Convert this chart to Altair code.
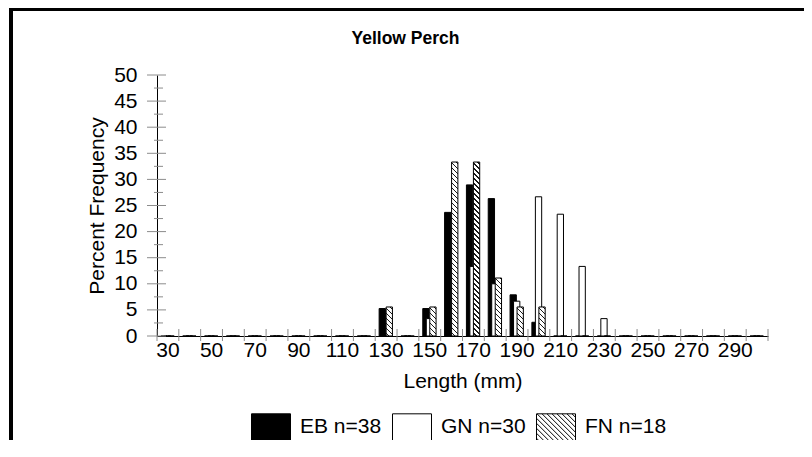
import altair as alt
import pandas as pd

# ---------------- data ----------------
lengths = [30, 40, 50, 60, 70, 80, 90, 100, 110, 120, 130, 140, 150, 160,
           170, 180, 190, 200, 210, 220, 230, 240, 250, 260, 270, 280, 290, 300]
eb_pct = [0, 0, 0, 0, 0, 0, 0, 0, 0, 0, 5.26, 0, 5.26, 23.68,
          28.95, 26.32, 7.89, 2.63, 0, 0, 0, 0, 0, 0, 0, 0, 0, 0]
gn_pct = [0, 0, 0, 0, 0, 0, 0, 0, 0, 0, 0, 0, 3.33, 0,
          13.33, 10.0, 6.67, 26.67, 23.33, 13.33, 3.33, 0, 0, 0, 0, 0, 0, 0]
fn_pct = [0, 0, 0, 0, 0, 0, 0, 0, 0, 0, 5.56, 0, 5.56, 33.33,
          33.33, 11.11, 5.56, 5.56, 0, 0, 0, 0, 0, 0, 0, 0, 0, 0]
series_names = ["EB n=38", "GN n=30", "FN n=18"]
x_label_values = [30, 50, 70, 90, 110, 130, 150, 170, 190, 210, 230, 250, 270, 290]
y_major_ticks = [0, 5, 10, 15, 20, 25, 30, 35, 40, 45, 50]
y_minor_ticks = [2.5, 7.5, 12.5, 17.5, 22.5, 27.5, 32.5, 37.5, 42.5, 47.5]

# ---------------- style ----------------
W, H = 611, 261
BAR_W = 6.3
FONT = "Liberation Sans"
TICK_GRAY = "#8c8c8c"

eb_df = pd.DataFrame({"length": lengths, "pct": eb_pct})
gn_df = pd.DataFrame({"length": lengths, "pct": gn_pct})
fn_df = pd.DataFrame({"length": lengths, "pct": fn_pct})
legend_df = pd.DataFrame({"series": series_names})
xt_df = pd.DataFrame({"length": lengths})
ymaj_df = pd.DataFrame({"pct": y_major_ticks})
ymin_df = pd.DataFrame({"pct": y_minor_ticks})
one_df = pd.DataFrame({"k": [0]})


def hatch_gradient(value, w=BAR_W, period=5.0, line=1.2):
    h = value / 50.0 * H
    total = w + h
    a = (1 + h / w) / (1 + (h / w) ** 2)
    stops = [{"offset": 0, "color": "white"}]
    s = period / 2
    while s < total:
        o0 = s / total
        o1 = min((s + line) / total, 1)
        stops += [{"offset": o0, "color": "white"}, {"offset": o0, "color": "#1a1a1a"},
                  {"offset": o1, "color": "#1a1a1a"}, {"offset": o1, "color": "white"}]
        s += period
    stops.append({"offset": 1, "color": "white"})
    return {"gradient": "linear", "x1": 0, "y1": 1, "x2": a, "y2": 1 - a * h / w,
            "stops": stops}


def hatch_symbol(hy=0.69, step=0.256):
    parts = [f"M-1,{-hy}H1V{hy}H-1Z"]
    c = -(1 + hy) + step / 2
    while c < 1 + hy:
        x_lo = max(-1, -hy + c)
        x_hi = min(1, hy + c)
        if x_hi - x_lo > 0.02:
            parts.append(f"M{x_lo:.3f},{x_lo - c:.3f}L{x_hi:.3f},{x_hi - c:.3f}")
        c += step
    return "".join(parts)


rect_symbol = "M-1,-0.69H1V0.69H-1Z"

x_axis = alt.Axis(values=x_label_values, labelAngle=0, ticks=False, grid=False,
                  domainColor="black", labelFont=FONT, labelFontSize=21,
                  labelColor="black", labelPadding=3, title="Length (mm)",
                  titleFont=FONT, titleFontSize=21, titleFontWeight="normal",
                  titleColor="black", titlePadding=10)
y_axis = alt.Axis(values=y_major_ticks, ticks=False, grid=False, domainColor="black",
                  labelFont=FONT, labelFontSize=21, labelColor="black", labelPadding=20,
                  title="Percent Frequency", titleFont=FONT, titleFontSize=21,
                  titleFontWeight="normal", titleColor="black", titlePadding=6)
x_scale = alt.Scale(paddingInner=0, paddingOuter=0)
y_scale = alt.Scale(domain=[0, 50], nice=False)

x_enc = alt.X("length:O", scale=x_scale, axis=x_axis)
y_enc = alt.Y("pct:Q", scale=y_scale, axis=y_axis)

eb_layer = alt.Chart(eb_df).mark_bar(
    width=BAR_W, xOffset=-3.85, fill="black", stroke="black", strokeWidth=1
).encode(x=x_enc, y=y_enc)

gn_layer = alt.Chart(gn_df).mark_bar(
    width=BAR_W, xOffset=-0.35, fill="white", stroke="black", strokeWidth=1
).encode(x=x_enc, y=y_enc)

fn_layers = [
    alt.Chart(fn_df).transform_filter(alt.datum.pct == 0).mark_bar(
        width=BAR_W, xOffset=3.15, fill="white", stroke="black", strokeWidth=1
    ).encode(x=x_enc, y=y_enc)
]
for v in sorted(set(p for p in fn_pct if p > 0)):
    fn_layers.append(
        alt.Chart(fn_df).transform_filter(alt.datum.pct == v).mark_bar(
            width=BAR_W, xOffset=3.15, fill=hatch_gradient(v), stroke="black",
            strokeWidth=1
        ).encode(x=x_enc, y=y_enc)
    )

# axis tick marks that cross the axis lines
ymaj_layer = alt.Chart(ymaj_df).mark_rule(color=TICK_GRAY, strokeWidth=1).encode(
    y=y_enc, x=alt.value(-10), x2=alt.value(9))
ymin_layer = alt.Chart(ymin_df).mark_rule(color=TICK_GRAY, strokeWidth=1).encode(
    y=y_enc, x=alt.value(-3), x2=alt.value(6))
xt_layer = alt.Chart(xt_df).mark_rule(color=TICK_GRAY, strokeWidth=1).encode(
    x=alt.X("length:O", bandPosition=0, scale=x_scale, axis=x_axis),
    y=alt.value(H - 7), y2=alt.value(H + 5))
xt_end_layer = alt.Chart(xt_df).transform_filter(alt.datum.length == lengths[-1]).mark_rule(
    color=TICK_GRAY, strokeWidth=1).encode(
    x=alt.X("length:O", bandPosition=1, scale=x_scale, axis=x_axis),
    y=alt.value(H - 7), y2=alt.value(H + 5))

# legend (built from an empty point layer)
leg = alt.Legend(orient="none", legendX=94, legendY=332, direction="horizontal",
                 title=None, labelFont=FONT, labelFontSize=21, labelColor="black",
                 symbolSize=1521, symbolStrokeWidth=1, symbolStrokeColor="black",
                 labelOffset=9, columnPadding=8, padding=0)
legend_layer = alt.Chart(legend_df).transform_filter("false").mark_point(
    filled=True, size=1521, stroke="black", strokeWidth=1, opacity=1
).encode(
    color=alt.Color("series:N", scale=alt.Scale(domain=series_names,
                                                range=["black", "white", "white"]),
                    legend=leg, sort=series_names),
    shape=alt.Shape("series:N", scale=alt.Scale(domain=series_names,
                                                range=[rect_symbol, rect_symbol, hatch_symbol()]),
                    legend=leg, sort=series_names),
)

# outer frame of the picture
frame_top = alt.Chart(one_df).mark_rule(color="black", strokeWidth=3).encode(
    x=alt.value(-148), x2=alt.value(W + 40), y=alt.value(-65.5))
frame_left = alt.Chart(one_df).mark_rule(color="black", strokeWidth=4).encode(
    x=alt.value(-146), y=alt.value(-67), y2=alt.value(H + 110))

chart = alt.layer(
    eb_layer, gn_layer, *fn_layers, ymaj_layer, ymin_layer, xt_layer, xt_end_layer,
    legend_layer, frame_top, frame_left,
).properties(
    width=W, height=H,
    title=alt.TitleParams("Yellow Perch", font=FONT, fontSize=17.5, fontWeight="bold",
                          color="black", anchor="middle", frame="group", dx=-57,
                          baseline="alphabetic", offset=0, dy=55),
    autosize=alt.AutoSizeParams(type="none"),
    padding={"left": 149, "top": 67, "right": 36, "bottom": 104},
    background="white",
).configure_view(strokeWidth=0).configure_axis(domainWidth=1)

chart.save("out.html", embed_options={"renderer": "svg", "actions": False})
